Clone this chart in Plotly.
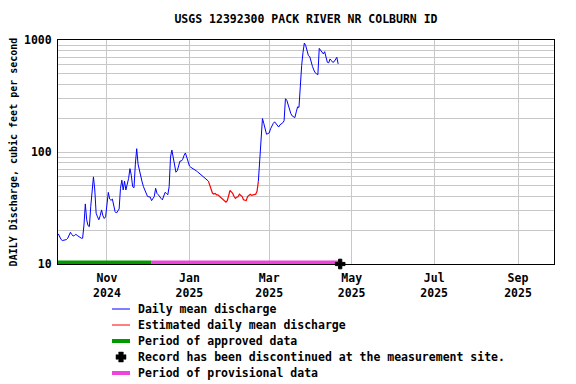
import pandas as pd
import plotly.graph_objects as go

# ---------------- data ----------------
start_date = "2024-09-26"
discharge = [
    18.6, 17.5, 16.6, 16.2, 16.3, 16.5, 16.5, 17.0, 18.2, 19.2,
    18.3, 17.8, 18.0, 18.4, 18.0, 17.6, 17.4, 17.0, 17.0, 22.3,
    34.4, 24.8, 22.0, 21.6, 32.5, 49, 60, 45.8, 28.4, 26.4,
    24.8, 27.0, 30.4, 27.0, 25.5, 26.4, 34.9, 43.6, 38.0, 37.0,
    38.0, 33.7, 29.4, 28.5, 29.5, 31.0, 47.4, 56, 45.8, 55,
    45.8, 52, 58, 71, 62, 49, 48, 78, 107, 78,
    68, 60, 54, 49, 45.3, 42.2, 40.1, 39.8, 39.6, 36.8,
    38.5, 40.0, 47.4, 42.7, 41.5, 39.6, 38.5, 37.4, 41.5, 43.6,
    42.7, 41.5, 49, 90, 104, 88, 72, 66, 68, 78,
    83, 83, 86, 93, 98, 90, 80, 75, 73, 72,
    71, 70, 68, 66.5, 65, 64, 62, 60, 59, 58,
    57, 55, 50.7, 45.8, 43.0, 42.2, 42.7, 41.5, 41.5, 40.5,
    39.6, 38.3, 37.5, 36.8, 35.6, 36.8, 41.5, 45.3, 44.0, 42.7,
    40.0, 38.5, 39.5, 40.0, 42.0, 41.0, 40.0, 37.4, 37.0, 36.8,
    40.0, 41.0, 42.0, 41.0, 41.5, 41.5, 42.0, 44.5, 55, 88,
    141, 199, 180, 156, 144, 146, 148, 161, 172, 180,
    186, 178, 172, 167, 175, 178, 182, 190, 299, 290,
    262, 234, 220, 210, 205, 203, 228, 253, 250, 441,
    591, 776, 940, 890, 800, 725, 710, 633, 580, 540,
    510, 499, 490, 842, 803, 780, 751, 787, 720, 632,
    626, 677, 655, 632, 640, 680, 700, 612,
]
estimated_first = 112   # index of first estimated day
estimated_last = 147    # index of last estimated day

approved_period = ["2024-09-20", "2024-12-04"]
provisional_period = ["2024-12-04", "2025-04-21"]
discontinued_date = "2025-04-22 12:00"
axis_floor = 10

x_tickvals = ["2024-11-01", "2025-01-01", "2025-03-01", "2025-05-01", "2025-07-01", "2025-09-01"]
x_ticktext = ["Nov<br>2024", "Jan<br>2025", "Mar<br>2025", "May<br>2025", "Jul<br>2025", "Sep<br>2025"]
x_range = ["2024-09-25 19:00", "2025-09-27 15:00"]

y_gridvals = [10, 20, 30, 40, 50, 60, 70, 80, 90,
              100, 200, 300, 400, 500, 600, 700, 800, 900, 1000]
y_labels = {10: "10", 100: "100", 1000: "1000"}

title = "USGS 12392300 PACK RIVER NR COLBURN ID"
y_title = "DAILY Discharge, cubic feet per second"
legend_labels = [
    "Daily mean discharge",
    "Estimated daily mean discharge",
    "Period of approved data",
    "Record has been discontinued at the measurement site.",
    "Period of provisional data",
]

# ---------------- build ----------------
dates = pd.date_range(start_date, periods=len(discharge), freq="D")
blue = [None if estimated_first <= i <= estimated_last else v for i, v in enumerate(discharge)]
red = [v if estimated_first - 1 <= i <= estimated_last + 1 else None for i, v in enumerate(discharge)]

FONT = "DejaVu Sans Mono"
BLUE = "#0000ff"
RED = "#ff0000"
GREEN = "#009900"
PINK = "#ee44dd"

fig = go.Figure()
fig.add_trace(go.Scatter(x=dates, y=blue, mode="lines", line=dict(color=BLUE, width=1),
                         name=legend_labels[0], showlegend=False, connectgaps=False))
fig.add_trace(go.Scatter(x=dates, y=red, mode="lines", line=dict(color=RED, width=1.2),
                         name=legend_labels[1], showlegend=False, connectgaps=False))
fig.add_trace(go.Scatter(x=approved_period, y=[axis_floor, axis_floor], mode="lines",
                         line=dict(color=GREEN, width=7), name=legend_labels[2], showlegend=False))
fig.add_trace(go.Scatter(x=provisional_period, y=[axis_floor, axis_floor], mode="lines",
                         line=dict(color=PINK, width=7), name=legend_labels[4], showlegend=False))
fig.add_trace(go.Scatter(x=[discontinued_date], y=[axis_floor], mode="markers",
                         marker=dict(symbol="cross", size=8, color="black",
                                     line=dict(color="black", width=1)),
                         cliponaxis=False, name=legend_labels[3], showlegend=False))

# ---------------- layout geometry ----------------
# the page places the figure 8 px in from the top-left corner (default body margin)
OFF = 8
FW, FH = 576 - OFF, 384 - OFF
L, R, T, B = 58 - OFF, 554 - OFF, 40 - OFF, 264 - OFF
W, H = R - L, B - T


def px(X):
    return (X - OFF - L) / W


def py(Y):
    return (B - (Y - OFF)) / H


rows = [309, 325, 341, 357, 373]
styles = [(BLUE, 1), (RED, 1), (GREEN, 4), None, (PINK, 4)]
shapes = []
annotations = []
for k, (label, st) in enumerate(zip(legend_labels, styles)):
    yy = rows[k]
    if st is not None:
        shapes.append(dict(type="line", xref="paper", yref="paper",
                           x0=px(112), x1=px(130), y0=py(yy), y1=py(yy),
                           line=dict(color=st[0], width=st[1])))
    else:
        a, b = 2.3, 5.0
        path = (f"M{-a},{b} L{a},{b} L{a},{a} L{b},{a} L{b},{-a} L{a},{-a} "
                f"L{a},{-b} L{-a},{-b} L{-a},{-a} L{-b},{-a} L{-b},{a} L{-a},{a} Z")
        shapes.append(dict(type="path", xref="paper", yref="paper",
                           xsizemode="pixel", ysizemode="pixel",
                           xanchor=px(121), yanchor=py(yy), path=path,
                           fillcolor="black", line=dict(color="black", width=0.5)))
    annotations.append(dict(text=label, xref="paper", yref="paper", x=px(136), y=py(yy),
                            xanchor="left", yanchor="middle", showarrow=False,
                            font=dict(family=FONT, size=11.5, color="black", weight="bold")))

fig.update_layout(
    width=FW, height=FH,
    margin=dict(l=L, r=FW - R, t=T, b=FH - B, pad=0, autoexpand=False),
    paper_bgcolor="white", plot_bgcolor="white",
    title=dict(text=title, x=0.5, xref="paper", y=1 - (19 - OFF) / FH, yref="container",
               xanchor="center", yanchor="middle",
               font=dict(family=FONT, size=11.5, color="black", weight="bold")),
    shapes=shapes, annotations=annotations,
    showlegend=False,
)
fig.update_xaxes(type="date", range=x_range, tickvals=x_tickvals, ticktext=x_ticktext,
                 showgrid=True, gridcolor="#c8c8c8", gridwidth=1,
                 showline=True, linecolor="black", linewidth=1, mirror=True,
                 ticks="", zeroline=False, ticklabelstandoff=3, automargin=False,
                 tickfont=dict(family=FONT, size=11.5, color="black", weight="bold"))
fig.update_yaxes(type="log", range=[1, 3], tickvals=y_gridvals,
                 ticktext=[y_labels.get(v, "") for v in y_gridvals],
                 showgrid=True, gridcolor="#c8c8c8", gridwidth=1,
                 showline=True, linecolor="black", linewidth=1, mirror=True,
                 ticks="", zeroline=False, ticklabelstandoff=3, automargin=False,
                 title=dict(text=y_title, standoff=10,
                            font=dict(family=FONT, size=10, color="black", weight="bold")),
                 tickfont=dict(family=FONT, size=11.5, color="black", weight="bold"))

fig.write_html("out.html")
